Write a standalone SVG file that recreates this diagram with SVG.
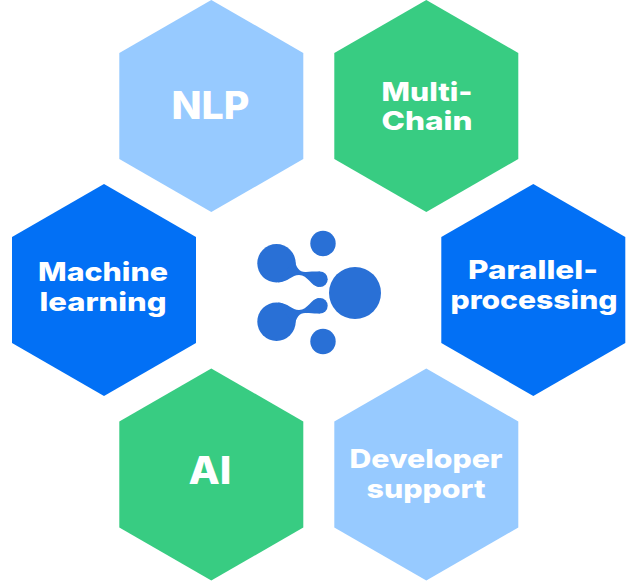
<svg xmlns="http://www.w3.org/2000/svg" width="638" height="582" viewBox="0 0 638 582">
<style>
.hex{stroke:none}
.green{fill:#38cc82}.light{fill:#97caff}.blue{fill:#0270f5}
.logo{fill:#2970d6}
text{font-family:"Inter","Open Sans","Liberation Sans",sans-serif;font-weight:800;fill:#fff;text-anchor:middle}
.s{font-size:26px}.b{font-size:38px}
</style>
<defs>
<polygon id="h" points="0,-106 92,-53 92,53 0,106 -92,53 -92,-53"/>
<g id="blob"><circle cx="276.5" cy="263.3" r="19.2"/><circle cx="320" cy="279.3" r="7.7"/>
<path d="M294.5,259C296,268 300,272.5 306,272C311,271.7 315,271.5 320,271.6L319,287C311,286.5 308,275 299,275C292,275 288,282 278,282.5Z"/></g>
</defs>
<rect width="638" height="582" fill="#fff"/>
<g id="node-nlp"><use href="#h" x="211.3" y="106" class="hex light"/><text class="b" x="210.5" y="119" textLength="78" lengthAdjust="spacingAndGlyphs">NLP</text></g>
<g id="node-multichain"><use href="#h" x="426.3" y="106" class="hex green"/><text class="s" x="427" y="101" textLength="91" lengthAdjust="spacingAndGlyphs">Multi-</text><text class="s" x="427" y="130" textLength="91" lengthAdjust="spacingAndGlyphs">Chain</text></g>
<g id="node-machine-learning"><use href="#h" x="104" y="290" class="hex blue"/><text class="s" x="103" y="281" textLength="130" lengthAdjust="spacingAndGlyphs">Machine</text><text class="s" x="103" y="311" textLength="127" lengthAdjust="spacingAndGlyphs">learning</text></g>
<g id="node-parallel"><use href="#h" x="533.3" y="290" class="hex blue"/><text class="s" x="533" y="279" textLength="130" lengthAdjust="spacingAndGlyphs">Parallel-</text><text class="s" x="534" y="309" textLength="167" lengthAdjust="spacingAndGlyphs">processing</text></g>
<g id="node-ai"><use href="#h" x="211.3" y="474.5" class="hex green"/><text class="b" x="210" y="484" textLength="43" lengthAdjust="spacingAndGlyphs">AI</text></g>
<g id="node-developer"><use href="#h" x="426.3" y="474.5" class="hex light"/><text class="s" x="426" y="468" textLength="153" lengthAdjust="spacingAndGlyphs">Developer</text><text class="s" x="426" y="498" textLength="119" lengthAdjust="spacingAndGlyphs">support</text></g>
<g id="node-logo" class="logo">
<circle cx="323" cy="243.5" r="12.7"/><circle cx="355" cy="293" r="26"/><circle cx="323" cy="341.5" r="12.7"/>
<use href="#blob"/><use href="#blob" transform="translate(0,585) scale(1,-1)"/>
</g>
</svg>
